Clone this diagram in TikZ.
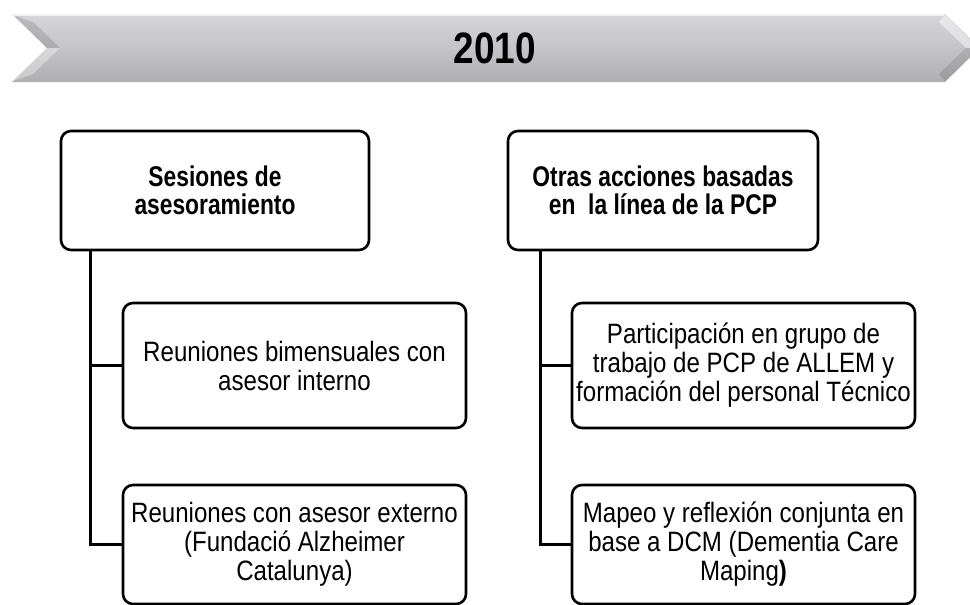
\documentclass[tikz,border=0pt]{standalone}
\usepackage{fontspec}
\setmainfont{Liberation Sans}[FakeStretch=0.86]
\newfontfamily\condfont{Liberation Sans}[FakeStretch=0.80]
\newfontfamily\titlefont{Liberation Sans}[FakeStretch=0.84]
\definecolor{banTop}{HTML}{D6D6DA}
\definecolor{banMid}{HTML}{C4C4C8}
\definecolor{banBot}{HTML}{AEAEB2}
\begin{document}
\begin{tikzpicture}[x=1pt,y=-1pt,
  box/.style={draw=black, line width=2.6pt, rounded corners=10pt, fill=white, align=center, inner sep=0pt, text=black},
  headbox/.style={box, font=\condfont\fontsize{28.5}{28.5}\selectfont\bfseries, minimum width=#1, minimum height=119pt},
  itembox/.style={box, font=\fontsize{28}{29}\selectfont, minimum width=343pt},
  conn/.style={draw=black, line width=2.6pt},
  bannertext/.style={font=\titlefont\fontsize{44}{44}\selectfont\bfseries, text=black}]
\useasboundingbox (0,0) rectangle (970,605);
\clip (0,0) rectangle (970,605);
% banner
\shade[top color=banTop, bottom color=banBot, middle color=banMid]
  (12,14) -- (945,14) -- (980,48) -- (945,82) -- (12,82) -- (47,48) -- cycle;
\draw[white!80!banMid, line width=1.5pt] (13,14.8) -- (944,14.8);
\fill[black, opacity=0.12] (13,15) -- (47,48) -- (60,48) -- (33,22) -- cycle;
\fill[white, opacity=0.35] (13,81) -- (47,48) -- (60,48) -- (33,74) -- cycle;
\fill[white, opacity=0.45] (945,15) -- (979,48) -- (966,48) -- (939,22) -- cycle;
\fill[black, opacity=0.10] (945,81) -- (979,48) -- (966,48) -- (939,74) -- cycle;
\node[bannertext] (T) at (495,48) {2010};
% header boxes
\node[headbox=308pt] (A) at (215,190.5) {Sesiones de\\asesoramiento};
\node[headbox=310pt] (B) at (663,190.5) {Otras acciones basadas\\en\ \ la línea de la PCP};
% child boxes
\node[itembox, minimum height=125pt] (LC1) at (294.5,365.5) {Reuniones bimensuales con\\asesor interno};
\node[itembox, minimum height=119pt] (LC2) at (294.5,544.5) {Reuniones con asesor externo\\(Fundació Alzheimer\\Catalunya)};
\node[itembox, minimum height=125pt] (RC1) at (743.5,365.5) {Participación en grupo de\\trabajo de PCP de ALLEM y\\formación del personal Técnico};
\node[itembox, minimum height=119pt] (RC2) at (743.5,544.5) {Mapeo y reflexión conjunta en\\base a DCM (Dementia Care\\Maping\textbf{)}};
% connectors
\draw[conn] ([xshift=31pt]A.south west) |- (LC1.west);
\draw[conn] ([xshift=31pt]A.south west) |- (LC2.west);
\draw[conn] ([xshift=34pt]B.south west) |- (RC1.west);
\draw[conn] ([xshift=34pt]B.south west) |- (RC2.west);
\end{tikzpicture}
\end{document}
